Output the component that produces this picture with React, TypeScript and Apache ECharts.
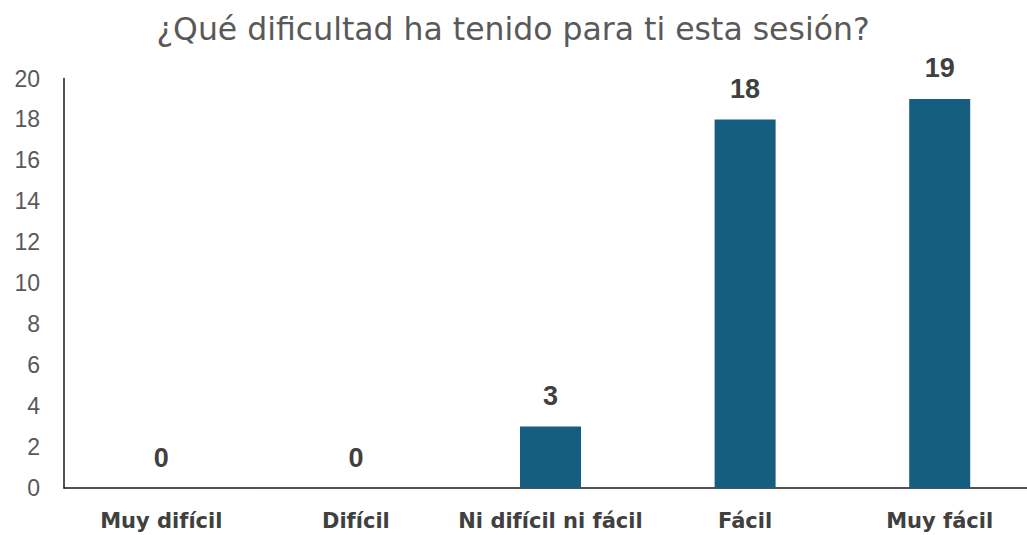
import React, { useEffect, useRef } from "react";
import * as echarts from "echarts";

const categories = ["Muy difícil", "Difícil", "Ni difícil ni fácil", "Fácil", "Muy fácil"];
const values = [0, 0, 3, 18, 19];
const titleText = "¿Qué dificultad ha tenido para ti esta sesión?";

export default function App() {
  const ref = useRef<HTMLDivElement>(null);
  useEffect(() => {
    if (!ref.current) return;
    const chart = echarts.init(ref.current, null, { renderer: "svg" });
    chart.setOption({
      animation: false,
      backgroundColor: "#ffffff",
      title: {
        text: titleText,
        left: 508,
        textAlign: "center",
        top: 8,
        textStyle: { fontFamily: "DejaVu Sans", fontSize: 31.5, fontWeight: "normal", color: "#595959" },
      },
      grid: { left: 64, right: 3, top: 78.5, bottom: 47, containLabel: false },
      xAxis: {
        type: "category",
        data: categories,
        axisLine: { lineStyle: { color: "#1a1a1a", width: 1.5 } },
        axisTick: { show: false },
        axisLabel: {
          margin: 22,
          fontFamily: "DejaVu Sans",
          fontSize: 21,
          fontWeight: "bold",
          color: "#404040",
          interval: 0,
        },
      },
      yAxis: {
        type: "value",
        min: 0,
        max: 20,
        interval: 2,
        splitLine: { show: false },
        axisLine: { show: true, lineStyle: { color: "#1a1a1a", width: 1.5 } },
        axisTick: { show: false },
        axisLabel: { margin: 24, fontFamily: "Liberation Sans", fontSize: 23, color: "#595959" },
      },
      series: [
        {
          type: "bar",
          data: values,
          barWidth: 61,
          itemStyle: { color: "#165E80" },
          label: {
            show: true,
            position: "top",
            distance: 17,
            fontFamily: "Liberation Sans",
            fontSize: 27,
            fontWeight: "bold",
            color: "#404040",
          },
        },
      ],
    });
    return () => chart.dispose();
  }, []);
  return (
    <div style={{ width: 1027, height: 535, position: "absolute", left: 0, top: 0, overflow: "hidden", background: "#fff" }}>
      <div ref={ref} style={{ width: 1040, height: 535 }} />
    </div>
  );
}
